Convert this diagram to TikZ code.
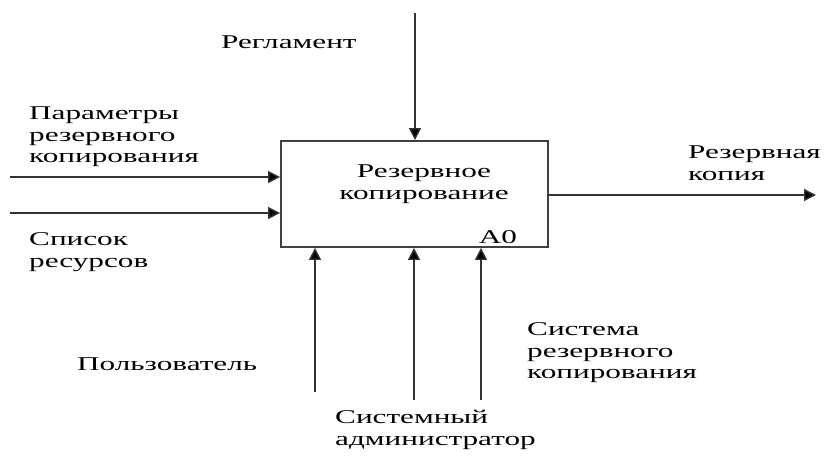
\documentclass[tikz,border=0pt]{standalone}
\usepackage{fontspec}
\setmainfont[FakeStretch=1.6]{Liberation Serif}
\usetikzlibrary{arrows.meta}
\begin{document}
\begin{tikzpicture}[x=1pt,y=-1pt,
  arr/.style={line width=1.4pt, draw=black!80, -{Triangle[length=12pt,width=12pt,fill=black]}},
  lbl/.style={inner sep=0pt, font=\fontsize{19.5}{21.5}\selectfont, align=left},
  func/.style={draw=black!75, line width=1.8pt, minimum width=267pt, minimum height=106pt, inner sep=0pt}]
\useasboundingbox (0,0) rectangle (827,455);
\node[func] (box) at (414.5,194) {};
\node[lbl, align=center] (title) at (424,184) {Резервное\\копирование};
\node[lbl] (a0) at (498,237) {A0};
% control
\coordinate (ctl) at (415,13);
\draw[arr] (ctl) -- (ctl |- box.north);
\node[lbl, anchor=west] (reg) at (221,42) {Регламент};
% inputs
\coordinate (in1) at (10,177);
\coordinate (in2) at (10,213);
\draw[arr] (in1) -- (in1 -| box.west);
\draw[arr] (in2) -- (in2 -| box.west);
\node[lbl, anchor=west] (par) at (29,137) {Параметры\\резервного\\копирования};
\node[lbl, anchor=west] (res) at (29,252) {Список\\ресурсов};
% output
\coordinate (out) at (816,195);
\draw[arr] (out -| box.east) -- (out);
\node[lbl, anchor=west] (copy) at (688,163) {Резервная\\копия};
% mechanisms
\coordinate (m1) at (315,392);
\coordinate (m2) at (414,400);
\coordinate (m3) at (481,400);
\draw[arr] (m1) -- (m1 |- box.south);
\draw[arr] (m2) -- (m2 |- box.south);
\draw[arr] (m3) -- (m3 |- box.south);
\node[lbl, anchor=west] (user) at (77,364) {Пользователь};
\node[lbl, anchor=west] (sys) at (527,353) {Система\\резервного\\копирования};
\node[lbl, anchor=west] (adm) at (335,430) {Системный\\администратор};
\end{tikzpicture}
\end{document}
